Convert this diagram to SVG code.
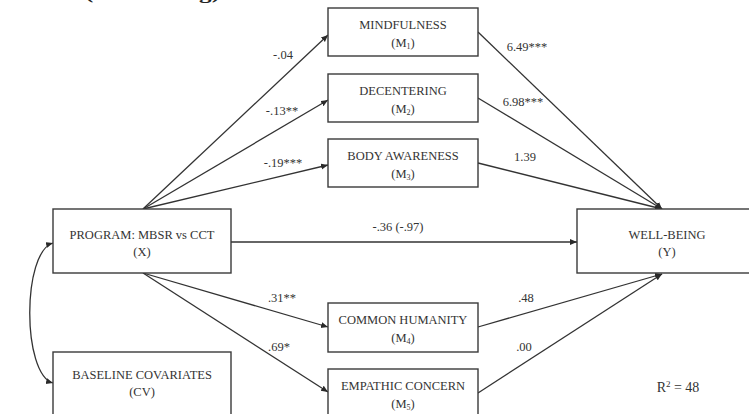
<svg xmlns="http://www.w3.org/2000/svg" width="749" height="414" viewBox="0 0 749 414">
  <defs>
    <marker id="arrow" markerUnits="userSpaceOnUse" markerWidth="8" markerHeight="7" refX="7" refY="3" orient="auto-start-reverse">
      <path d="M0,0 L7,3 L0,6 z" fill="#2a2a2a"/>
    </marker>
    <style>
      .box { fill: #ffffff; stroke: #3a3a3a; stroke-width: 1.4; }
      .lbl { font-family: "Liberation Serif", "Times New Roman", serif; font-size: 12.5px; fill: #333333; text-anchor: middle; }
      .sub { font-size: 8px; }
      .edge { fill: none; stroke: #333333; stroke-width: 1.3; marker-end: url(#arrow); }
      .coef { font-family: "Liberation Serif", "Times New Roman", serif; font-size: 12.5px; fill: #333333; text-anchor: middle; }
    </style>
  </defs>
  <rect x="0" y="0" width="749" height="414" fill="#ffffff"/>

  <!-- title line, mostly above the top edge -->
  <text x="85" y="-1" font-family="Liberation Serif, serif" font-weight="bold" font-size="16" fill="#222" textLength="135" lengthAdjust="spacingAndGlyphs">(Well-Being)</text>

  <!-- connectors -->
  <g id="connectors">
    <path class="edge" d="M143,209 L328,35"/>
    <path class="edge" d="M143,209 L328,100"/>
    <path class="edge" d="M143,209 L328,165"/>
    <path class="edge" d="M231,242 L577,242"/>
    <path class="edge" d="M143,273 L328,327"/>
    <path class="edge" d="M143,273 L328,392"/>
    <path class="edge" d="M478,32 L662,209"/>
    <path class="edge" d="M478,98 L662,209"/>
    <path class="edge" d="M478,163 L662,209"/>
    <path class="edge" d="M478,327 L662,274"/>
    <path class="edge" d="M478,393 L662,274"/>
    <path class="edge" marker-start="url(#arrow)" d="M53,243 C22,252 22,374 53,383"/>
  </g>

  <!-- coefficients -->
  <g id="coefficients">
    <text class="coef" x="283" y="59">-.04</text>
    <text class="coef" x="282" y="115">-.13**</text>
    <text class="coef" x="283" y="167">-.19***</text>
    <text class="coef" x="398" y="231">-.36 (-.97)</text>
    <text class="coef" x="282" y="302">.31**</text>
    <text class="coef" x="279" y="351">.69*</text>
    <text class="coef" x="527" y="51">6.49***</text>
    <text class="coef" x="523" y="106">6.98***</text>
    <text class="coef" x="525" y="161">1.39</text>
    <text class="coef" x="526" y="302">.48</text>
    <text class="coef" x="524" y="351">.00</text>
    <text class="coef" x="678" y="392" style="font-size:14px">R<tspan font-size="9" dy="-5">2</tspan><tspan dy="5"> = 48</tspan></text>
  </g>

  <g id="program">
    <rect class="box" x="53" y="209" width="178" height="64"/>
    <text class="lbl" x="142" y="239">PROGRAM: MBSR vs CCT</text>
    <text class="lbl" x="142" y="256">(X)</text>
  </g>

  <g id="covariates">
    <rect class="box" x="53" y="352" width="178" height="70"/>
    <text class="lbl" x="142" y="379">BASELINE COVARIATES</text>
    <text class="lbl" x="142" y="396">(CV)</text>
  </g>

  <g id="mindfulness">
    <rect class="box" x="328" y="8" width="150" height="48"/>
    <text class="lbl" x="403" y="29">MINDFULNESS</text>
    <text class="lbl" x="403" y="47">(M<tspan class="sub" dy="2">1</tspan><tspan dy="-2">)</tspan></text>
  </g>

  <g id="decentering">
    <rect class="box" x="328" y="74" width="150" height="48"/>
    <text class="lbl" x="403" y="95">DECENTERING</text>
    <text class="lbl" x="403" y="113">(M<tspan class="sub" dy="2">2</tspan><tspan dy="-2">)</tspan></text>
  </g>

  <g id="body-awareness">
    <rect class="box" x="328" y="139" width="150" height="48"/>
    <text class="lbl" x="403" y="160">BODY AWARENESS</text>
    <text class="lbl" x="403" y="178">(M<tspan class="sub" dy="2">3</tspan><tspan dy="-2">)</tspan></text>
  </g>

  <g id="common-humanity">
    <rect class="box" x="328" y="303" width="150" height="49"/>
    <text class="lbl" x="403" y="324">COMMON HUMANITY</text>
    <text class="lbl" x="403" y="342">(M<tspan class="sub" dy="2">4</tspan><tspan dy="-2">)</tspan></text>
  </g>

  <g id="empathic-concern">
    <rect class="box" x="328" y="369" width="150" height="49"/>
    <text class="lbl" x="403" y="390">EMPATHIC CONCERN</text>
    <text class="lbl" x="403" y="408">(M<tspan class="sub" dy="2">5</tspan><tspan dy="-2">)</tspan></text>
  </g>

  <g id="well-being">
    <rect class="box" x="577" y="209" width="180" height="64"/>
    <text class="lbl" x="667" y="239">WELL-BEING</text>
    <text class="lbl" x="667" y="256">(Y)</text>
  </g>
</svg>
